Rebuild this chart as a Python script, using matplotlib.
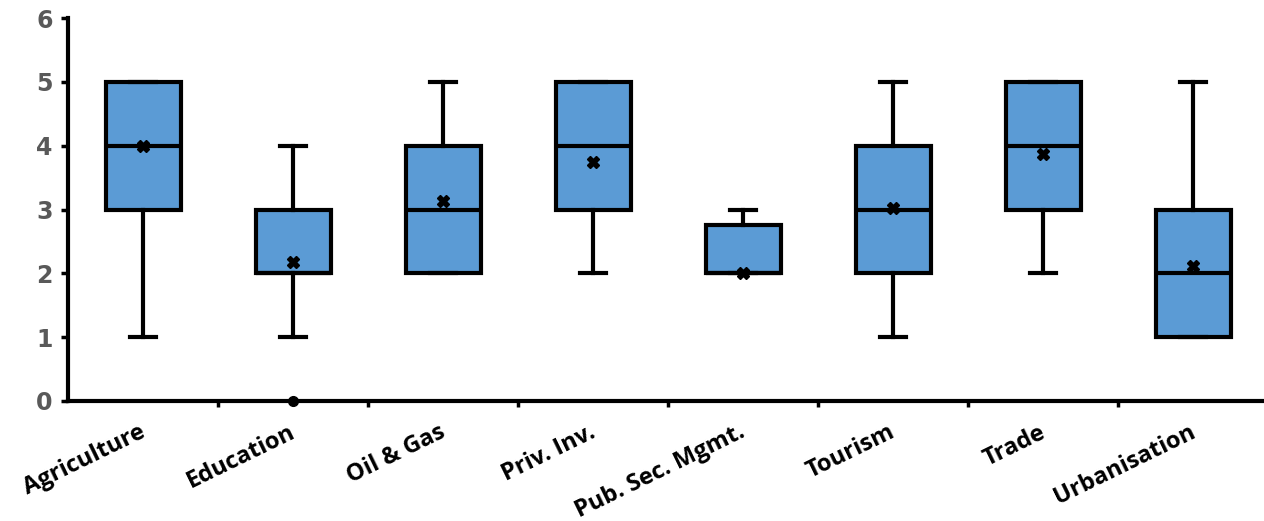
import numpy as np
import matplotlib.pyplot as plt

categories = ['Agriculture', 'Education', 'Oil & Gas', 'Priv. Inv.',
              'Pub. Sec. Mgmt.', 'Tourism', 'Trade', 'Urbanisation']
whislo = [1, 1, 2, 2, 2, 1, 2, 1]
q1 = [3, 2, 2, 3, 2, 2, 3, 1]
med = [4, 2, 3, 4, 2, 3, 4, 2]
q3 = [5, 3, 4, 5, 2.75, 4, 5, 3]
whishi = [5, 4, 5, 5, 3, 5, 5, 5]
means = [4.0, 2.18, 3.13, 3.75, 2.0, 3.03, 3.87, 2.12]
fliers = [[], [0], [], [], [], [], [], []]

stats = []
for i, c in enumerate(categories):
    stats.append(dict(label=c, whislo=whislo[i], q1=q1[i], med=med[i],
                      q3=q3[i], whishi=whishi[i], mean=means[i],
                      fliers=fliers[i]))

W, H = 1264, 521
fig = plt.figure(figsize=(W / 100, H / 100), dpi=100)
ax = fig.add_axes([68 / W, 120 / H, (W - 68) / W, 383 / H])

lw = 3
bp = ax.bxp(stats, positions=np.arange(1, 9), widths=0.5, capwidths=0.17,
            showmeans=True, patch_artist=True,
            boxprops=dict(facecolor='#5B9BD5', edgecolor='black', linewidth=lw),
            medianprops=dict(color='black', linewidth=lw),
            whiskerprops=dict(color='black', linewidth=lw),
            capprops=dict(color='black', linewidth=lw),
            meanprops=dict(marker='X', markerfacecolor='black',
                           markeredgecolor='black', markersize=8.5),
            flierprops=dict(marker='o', markerfacecolor='black',
                            markeredgecolor='black', markersize=7))
for f in bp['fliers']:
    f.set_clip_on(False)

ax.set_xlim(0.5, 0.5 + (W - 68) / 150)
ax.set_ylim(0, 6)
ax.set_yticks(range(7))
ax.set_yticklabels([str(v) for v in range(7)], fontsize=17,
                   fontweight='bold', color='#595959')

ax.set_xticks(np.arange(0.97, 8.97, 1))
ax.set_xticklabels(categories, rotation=26, ha='right', rotation_mode='anchor',
                   fontsize=17, fontweight='bold', family='Open Sans')
ax.tick_params(axis='x', which='major', length=0, pad=14)
ax.set_xticks(np.arange(1.5, 8.5, 1), minor=True)
ax.tick_params(axis='x', which='minor', length=4, width=2.5, direction='out')
ax.tick_params(axis='y', length=5, width=2.5, direction='out', pad=6)

for s in ['top', 'right']:
    ax.spines[s].set_visible(False)
for s in ['left', 'bottom']:
    ax.spines[s].set_linewidth(3)

fig.savefig('out.png', dpi=100)
